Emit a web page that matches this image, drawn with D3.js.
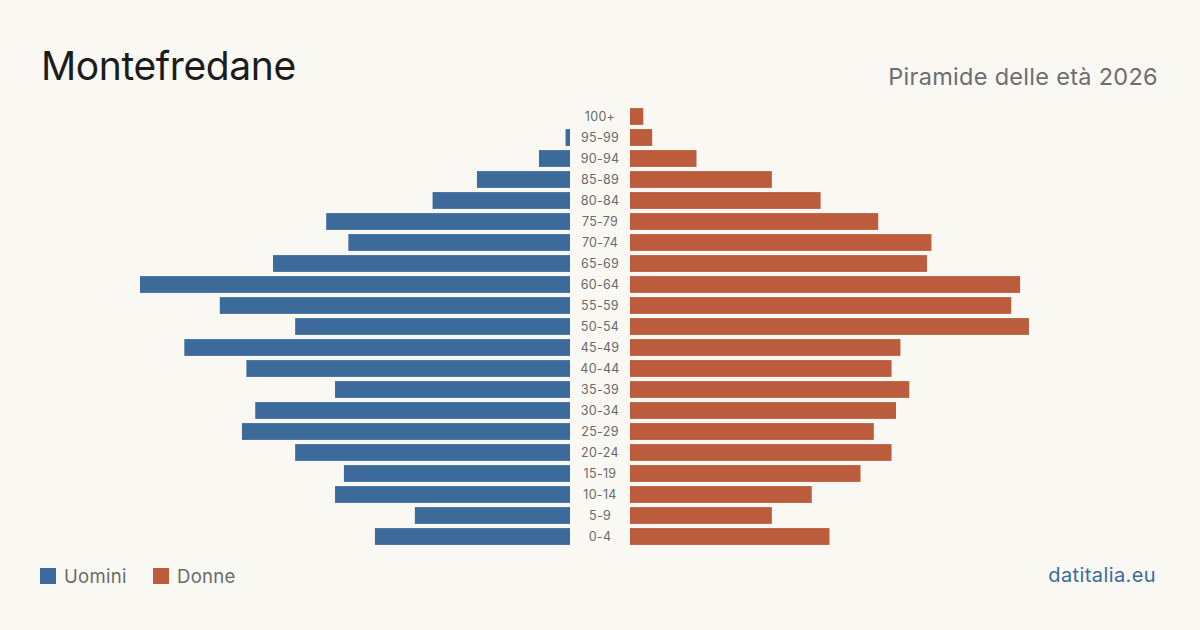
<!DOCTYPE html>
<html>
<head>
<meta charset="utf-8">
<script src="https://cdn.jsdelivr.net/npm/d3@7"></script>
<style>
  html, body { margin: 0; padding: 0; background: #f9f8f3; }
  svg { display: block; }
</style>
</head>
<body>
<svg id="chart" width="1200" height="630"></svg>
<script>
const ageGroups = ["100+","95-99","90-94","85-89","80-84","75-79","70-74","65-69","60-64","55-59","50-54","45-49","40-44","35-39","30-34","25-29","20-24","15-19","10-14","5-9","0-4"];
const men   = [0, 1, 7, 21, 31, 55, 50, 67, 97, 79, 62, 87, 73, 53, 71, 74, 62, 51, 53, 35, 44];
const women = [3, 5, 15, 32, 43, 56, 68, 67, 88, 86, 90, 61, 59, 63, 60, 55, 59, 52, 41, 32, 45];
const legendLabels = ["Uomini", "Donne"];
const title = "Montefredane";
const subtitle = "Piramide delle età 2026";
const source = "datitalia.eu";

const W = 1200, H = 630;
const blue = "#3c6b9b", orange = "#bb5d3c";
const font = "Inter, 'DejaVu Sans', sans-serif";
const svg = d3.select("#chart");

svg.append("rect").attr("width", W).attr("height", H).attr("fill", "#f9f8f3");

const maxV = d3.max(men.concat(women));
const xw = d3.scaleLinear().domain([0, maxV]).range([0, 430]);
const leftEnd = 570, rightStart = 630, center = 600;
const y = d3.scaleBand().domain(ageGroups).range([106, 547]).paddingInner(0.2).paddingOuter(0.1);

const g = svg.append("g");
g.selectAll("rect.m").data(ageGroups).join("rect")
  .attr("class", "m")
  .attr("x", (d, i) => leftEnd - xw(men[i]))
  .attr("y", d => y(d))
  .attr("width", (d, i) => xw(men[i]))
  .attr("height", y.bandwidth())
  .attr("fill", blue);

g.selectAll("rect.f").data(ageGroups).join("rect")
  .attr("class", "f")
  .attr("x", rightStart)
  .attr("y", d => y(d))
  .attr("width", (d, i) => xw(women[i]))
  .attr("height", y.bandwidth())
  .attr("fill", orange);

g.selectAll("text.age").data(ageGroups).join("text")
  .attr("class", "age")
  .attr("x", center)
  .attr("y", d => y(d) + y.bandwidth() / 2)
  .attr("dy", "0.35em")
  .attr("text-anchor", "middle")
  .attr("font-family", font)
  .attr("font-size", 12.5)
  .attr("letter-spacing", "0.3")
  .attr("fill", "#6a6a6a")
  .text(d => d);

svg.append("text").attr("x", 41).attr("y", 80)
  .attr("font-family", font).attr("font-size", 39).attr("fill", "#1c1c1c")
  .attr("letter-spacing", "-0.4")
  .text(title);

svg.append("text").attr("x", 1158).attr("y", 85)
  .attr("text-anchor", "end")
  .attr("font-family", font).attr("font-size", 23.5).attr("fill", "#6e6e6e")
  .attr("letter-spacing", "0.3")
  .text(subtitle);

const legendColors = [blue, orange];
const legX = [40, 153];
legendLabels.forEach((lab, i) => {
  svg.append("rect").attr("x", legX[i]).attr("y", 568).attr("width", 16).attr("height", 16).attr("fill", legendColors[i]);
  svg.append("text").attr("x", legX[i] + 24).attr("y", 583)
    .attr("font-family", font).attr("font-size", 18.5).attr("fill", "#6a6a6a")
    .attr("letter-spacing", "0.3")
    .text(lab);
});

svg.append("text").attr("x", 1156).attr("y", 582)
  .attr("text-anchor", "end")
  .attr("font-family", font).attr("font-size", 20).attr("fill", "#3c6b9b")
  .attr("letter-spacing", "0.4")
  .text(source);
</script>
</body>
</html>
